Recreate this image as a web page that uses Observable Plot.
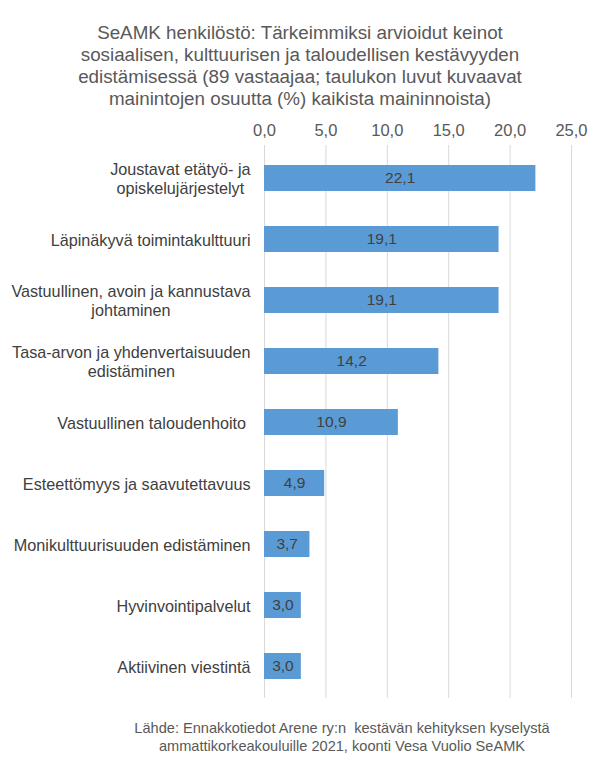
<!DOCTYPE html>
<html>
<head>
<meta charset="utf-8">
<script src="https://cdn.jsdelivr.net/npm/d3@7"></script>
<script src="https://cdn.jsdelivr.net/npm/@observablehq/plot@0.6"></script>
<style>
  html, body { margin: 0; padding: 0; background: #fff; }
  body { width: 592px; height: 771px; position: relative; overflow: hidden; font-family: "Liberation Sans", Arial, sans-serif; }
  #title { position: absolute; left: 4px; top: 22px; width: 592px; text-align: center; font-size: 18.8px; line-height: 22px; color: #595959; }
  #chart { position: absolute; left: 0; top: 110px; }
  #caption { position: absolute; left: 46px; top: 719px; width: 592px; text-align: center; font-size: 14.6px; line-height: 18px; color: #595959; white-space: pre; }
</style>
</head>
<body>
<div id="title"></div>
<div id="chart"></div>
<div id="caption"></div>
<script>
const titleLines = [
  "SeAMK henkilöstö: Tärkeimmiksi arvioidut keinot",
  "sosiaalisen, kulttuurisen ja taloudellisen kestävyyden",
  "edistämisessä (89 vastaajaa; taulukon luvut kuvaavat",
  "mainintojen osuutta (%) kaikista maininnoista)"
];
const captionLines = [
  "Lähde: Ennakkotiedot Arene ry:n  kestävän kehityksen kyselystä",
  "ammattikorkeakouluille 2021, koonti Vesa Vuolio SeAMK"
];
const categories = [
  "Joustavat etätyö- ja\nopiskelujärjestelyt",
  "Läpinäkyvä toimintakulttuuri",
  "Vastuullinen, avoin ja kannustava\njohtaminen",
  "Tasa-arvon ja yhdenvertaisuuden\nedistäminen",
  "Vastuullinen taloudenhoito ",
  "Esteettömyys ja saavutettavuus",
  "Monikulttuurisuuden edistäminen",
  "Hyvinvointipalvelut",
  "Aktiivinen viestintä"
];
const values = [22.1, 19.1, 19.1, 14.2, 10.9, 4.9, 3.7, 3.0, 3.0];
const xTicks = [0, 5, 10, 15, 20, 25];

document.getElementById("title").innerHTML = titleLines.join("<br>");
document.getElementById("caption").textContent = captionLines.join("\n");

const data = categories.map((c, i) => ({category: c, value: values[i]}));
const fmt = d => d.toFixed(1).replace(".", ",");

const FONT = '"Liberation Sans", Arial, sans-serif';
const labelSize = 16.2;
const ctx = document.createElement("canvas").getContext("2d");
ctx.font = `${labelSize}px ${FONT}`;
const labelWidth = s => Math.max(...s.split("\n").map(l => ctx.measureText(l).width));

const labelMarks = categories.map(c => Plot.text([c], {
  y: d => d,
  frameAnchor: "left",
  text: d => d,
  textAnchor: "middle",
  dx: -labelWidth(c) / 2 - 14,
  fontSize: labelSize,
  lineHeight: 1.2,
  fill: "#404040"
}));

const chart = Plot.plot({
  width: 592,
  height: 598,
  marginTop: 35,
  marginBottom: 10,
  marginLeft: 264,
  marginRight: 21,
  style: {fontFamily: FONT, background: "transparent"},
  x: {domain: [0, 25], axis: null},
  y: {domain: categories, paddingInner: 0.58, paddingOuter: 0.29, axis: null},
  marks: [
    Plot.gridX(xTicks, {stroke: "#d9d9d9", strokeOpacity: 1, strokeWidth: 1}),
    Plot.axisX(xTicks, {anchor: "top", label: null, tickSize: 0, tickPadding: 10, tickFormat: fmt, fontSize: 16.5, fill: "#595959"}),
    Plot.barX(data, {x: "value", y: "category", fill: "#5b9bd5"}),
    Plot.text(data, {x: d => d.value / 2, y: "category", text: d => fmt(d.value), fontSize: 15.5, fill: "#404040"}),
    ...labelMarks
  ]
});
document.getElementById("chart").appendChild(chart);
</script>
</body>
</html>
